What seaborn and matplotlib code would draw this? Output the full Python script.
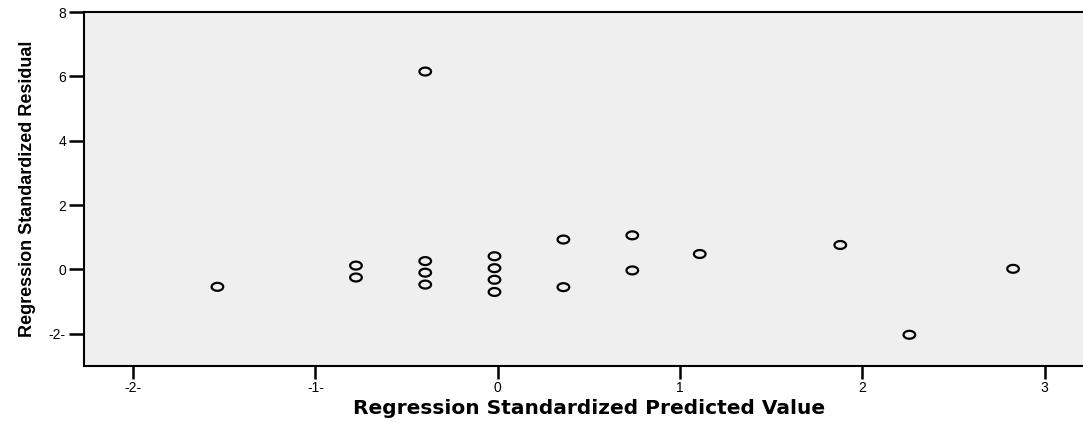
import numpy as np
import pandas as pd
import matplotlib
matplotlib.use("Agg")
import matplotlib.pyplot as plt
from matplotlib.path import Path
import seaborn as sns

predicted = [-1.538, -0.778, -0.778, -0.398, -0.398, -0.398, -0.398,
             -0.018, -0.018, -0.018, -0.018, 0.360, 0.360, 0.738, 0.738,
             1.108, 1.879, 2.258, 2.827]
residual = [-0.54, 0.12, -0.25, 6.15, 0.26, -0.10, -0.47,
            0.41, 0.04, -0.32, -0.70, 0.93, -0.55, 1.06, -0.03,
            0.48, 0.76, -2.03, 0.02]

x_ticks = [-2, -1, 0, 1, 2, 3]
x_tick_labels = ["-2-", "-1-", "0", "1", "2", "3"]
y_ticks = [-2, 0, 2, 4, 6, 8]
y_tick_labels = ["-2-", "0", "2", "4", "6", "8"]

df = pd.DataFrame({"pred": predicted, "resid": residual})

sns.set_style("white")
plt.rcParams["font.family"] = ["Liberation Sans", "DejaVu Sans"]

fig = plt.figure(figsize=(10.83, 4.23), dpi=100)
ax = fig.add_axes([84 / 1083, 57 / 423, 1 - 84 / 1083 + 0.01, (366 - 12) / 423])
ax.set_facecolor("#efefef")

t = np.linspace(0, 2 * np.pi, 64)
ellipse = Path(np.column_stack([np.cos(t), 0.68 * np.sin(t)]), closed=True)

sns.scatterplot(data=df, x="pred", y="resid", ax=ax, marker=ellipse, s=70,
                facecolor="none", edgecolor="black", color="black",
                linewidth=1.6, zorder=3)

ax.set_xlim(-2.27, 3.27)
ax.set_ylim(-3, 8)
ax.set_xticks(x_ticks)
ax.set_xticklabels(x_tick_labels)
ax.set_yticks(y_ticks)
ax.set_yticklabels(y_tick_labels)

for side in ["left", "bottom", "top"]:
    ax.spines[side].set_visible(True)
    ax.spines[side].set_color("black")
    ax.spines[side].set_linewidth(1.5)
ax.spines["right"].set_visible(False)

ax.tick_params(axis="both", which="major", direction="out", length=11,
               width=1.8, color="black", labelsize=10, labelcolor="black", pad=2)
ax.tick_params(axis="x", bottom=True, length=9)
ax.tick_params(axis="y", left=True)

ax.set_xlabel("Regression Standardized Predicted Value", fontsize=14.5,
              fontweight="bold", labelpad=3, color="black",
              family=["DejaVu Sans"])
ax.set_ylabel("Regression Standardized Residual", fontsize=13,
              fontweight="bold", labelpad=9, color="black")

fig.savefig("out.png", dpi=100)
